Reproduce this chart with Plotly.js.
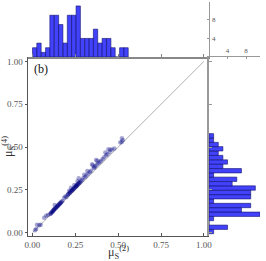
<!DOCTYPE html>
<html><head><meta charset="utf-8">
<script src="https://cdn.plot.ly/plotly-3.0.1.min.js"></script>
<style>html,body{margin:0;padding:0;background:#fff}#chart{width:266px;height:261px}</style>
</head><body><div id="chart"></div>
<script>
// scatter values (mu_S^(2), mu_S^(4))
const mu2 = [0.015,0.022,0.026,0.040,0.048,
  0.068,0.080,0.090,
  0.104,0.107,0.110,0.113,0.116,0.119,0.121,0.124,0.126,
  0.128,0.130,0.133,0.136,0.139,0.142,0.145,0.148,0.151,
  0.154,0.157,0.160,0.163,0.166,0.170,0.175,
  0.185,0.192,0.198,
  0.205,0.208,0.211,0.214,0.217,0.220,0.222,0.225,0.227,
  0.230,0.233,0.236,0.238,0.241,0.244,0.246,0.249,0.252,
  0.255,0.257,0.259,0.261,0.263,0.265,0.268,0.270,0.272,0.275,0.277,
  0.283,0.290,0.296,0.302,
  0.308,0.315,0.320,0.326,
  0.335,0.342,0.348,0.352,
  0.358,0.362,0.367,0.371,0.375,0.379,
  0.385,0.392,0.400,
  0.410,0.418,0.425,0.430,
  0.437,0.443,0.450,0.455,
  0.465,0.478,
  0.512,0.522,
  0.527,0.521];
const mu4 = [0.014,0.022,0.047,0.043,0.047,
  0.088,0.099,0.103,
  0.110,0.113,0.117,0.120,0.123,0.126,0.130,0.133,0.135,
  0.138,0.162,0.142,0.145,0.148,0.152,0.155,0.158,0.161,
  0.165,0.167,0.171,0.174,0.177,0.181,0.186,
  0.205,0.212,0.208,
  0.220,0.224,0.227,0.245,0.232,0.236,0.240,0.262,0.244,
  0.246,0.250,0.252,0.255,0.258,0.278,0.262,0.266,0.270,
  0.272,0.275,0.277,0.280,0.300,0.283,0.286,0.318,0.290,0.293,0.296,
  0.300,0.308,0.318,0.338,
  0.326,0.334,0.360,0.346,
  0.355,0.362,0.400,0.392,
  0.378,0.382,0.388,0.425,0.398,0.420,
  0.405,0.413,0.421,
  0.430,0.440,0.468,0.452,
  0.458,0.488,0.472,0.485,
  0.486,0.492,
  0.527,0.551,
  0.540,0.530];
// marginal histogram of mu_S^(2)
const xBinCenters = [0.013,0.038,0.064,0.089,0.114,0.140,0.165,0.191,0.216,0.241,0.267,0.292,0.318,0.343,0.368,0.394,0.419,0.445,0.470,0.495,0.521,0.546];
const xCounts = [2,3,1,2,9,9,7,3,9,9,11,4,4,4,6,3,4,4,2,0,2,2];
// marginal histogram of mu_S^(4)
const yBinCenters = [0.007,0.032,0.058,0.083,0.108,0.134,0.159,0.185,0.210,0.235,0.261,0.286,0.312,0.337,0.362,0.388,0.413,0.439,0.464,0.490,0.515,0.540,0.566];
const yCounts = [1,4,0,1,11,7,9,1,9,9,10,5,6,1,7,3,4,3,2,3,2,1,1];
const binWidth = 0.0254;
const diagX = [0, 1];
const diagY = [0, 1];
const mainTickVals = [0, 0.25, 0.5, 0.75, 1];
const mainTickText = ['0.00','0.25','0.50','0.75','1.00'];
const countTickVals = [4, 8];
const countTickText = ['4','8'];

const serif = 'Liberation Serif, DejaVu Serif, serif';
const barFill = 'rgba(45,45,250,0.9)';
const barEdge = 'rgb(20,20,110)';

const traces = [
  {x: diagX, y: diagY, type: 'scatter', mode: 'lines', line: {color: '#b0b0b0', width: 1}, xaxis: 'x', yaxis: 'y', hoverinfo: 'skip'},
  {x: mu2, y: mu4, type: 'scatter', mode: 'markers', marker: {size: 4.5, color: 'rgba(0,0,128,0.35)'}, xaxis: 'x', yaxis: 'y'},
  {x: xBinCenters, y: xCounts, type: 'bar', width: binWidth, marker: {color: barFill, line: {color: barEdge, width: 0.6}}, xaxis: 'x2', yaxis: 'y2'},
  {x: yCounts, y: yBinCenters, type: 'bar', orientation: 'h', width: binWidth, marker: {color: barFill, line: {color: barEdge, width: 0.6}}, xaxis: 'x3', yaxis: 'y3'}
];

const tickFont = {family: serif, size: 9, color: '#555'};
const layout = {
  width: 266, height: 261,
  margin: {l: 0, r: 0, t: 0, b: 0},
  paper_bgcolor: '#fff', plot_bgcolor: 'rgba(0,0,0,0)',
  showlegend: false,
  bargap: 0,
  font: {family: serif},
  xaxis: {domain: [0.1053, 0.7857], range: [-0.026, 1.03], anchor: 'y',
    showgrid: false, zeroline: false, showline: true, linecolor: '#555', linewidth: 1.5,
    ticks: 'inside', ticklen: 3, tickcolor: '#555', tickvals: mainTickVals, ticktext: mainTickText,
    tickfont: tickFont,
    title: {text: 'μ<sub>S</sub><sup>(2)</sup>', font: {family: serif, size: 12, color: '#333'}, standoff: 6}},
  yaxis: {domain: [0.0958, 0.7816], range: [-0.019, 1.026], anchor: 'x',
    showgrid: false, zeroline: false, showline: true, linecolor: '#555', linewidth: 1.5,
    ticks: 'outside', ticklen: 2, tickcolor: '#555', tickvals: mainTickVals, ticktext: mainTickText,
    tickfont: tickFont,
    title: {text: 'μ<sub>S</sub><sup>(4)</sup>', font: {family: serif, size: 12, color: '#333'}, standoff: 5}},
  xaxis2: {domain: [0.1053, 0.7857], matches: 'x', range: [-0.026, 1.03], anchor: 'y2',
    showgrid: false, zeroline: false, showline: true, linecolor: '#888', linewidth: 1.5,
    ticks: 'inside', ticklen: 3, tickcolor: '#888', tickvals: mainTickVals, showticklabels: false},
  yaxis2: {domain: [0.7816, 0.9923], range: [0, 11.85], anchor: 'x2', side: 'right',
    showgrid: false, zeroline: false, showline: true, linecolor: '#999', linewidth: 1.5,
    ticks: 'inside', ticklen: 2, tickcolor: '#999', tickvals: countTickVals, ticktext: countTickText,
    tickfont: {family: serif, size: 7, color: '#555'}},
  xaxis3: {domain: [0.7857, 0.9774], range: [0, 11], anchor: 'y3', side: 'top',
    showgrid: false, zeroline: false, showline: true, linecolor: '#999', linewidth: 1.5,
    ticks: 'inside', ticklen: 2, tickcolor: '#999', tickvals: countTickVals, ticktext: countTickText,
    tickfont: {family: serif, size: 7, color: '#555'}},
  yaxis3: {domain: [0.0958, 0.7816], matches: 'y', range: [-0.019, 1.026], anchor: 'x3',
    showgrid: false, zeroline: false, showline: true, linecolor: '#999', linewidth: 1.5,
    ticks: 'inside', ticklen: 3, tickcolor: '#999', tickvals: mainTickVals, showticklabels: false},
  annotations: [
    {text: '(b)', xref: 'paper', yref: 'paper', x: 0.122, y: 0.770, xanchor: 'left', yanchor: 'top',
     showarrow: false, font: {family: serif, size: 12, color: '#111'}}
  ]
};
Plotly.newPlot('chart', traces, layout, {staticPlot: true, displayModeBar: false});
</script></body></html>
